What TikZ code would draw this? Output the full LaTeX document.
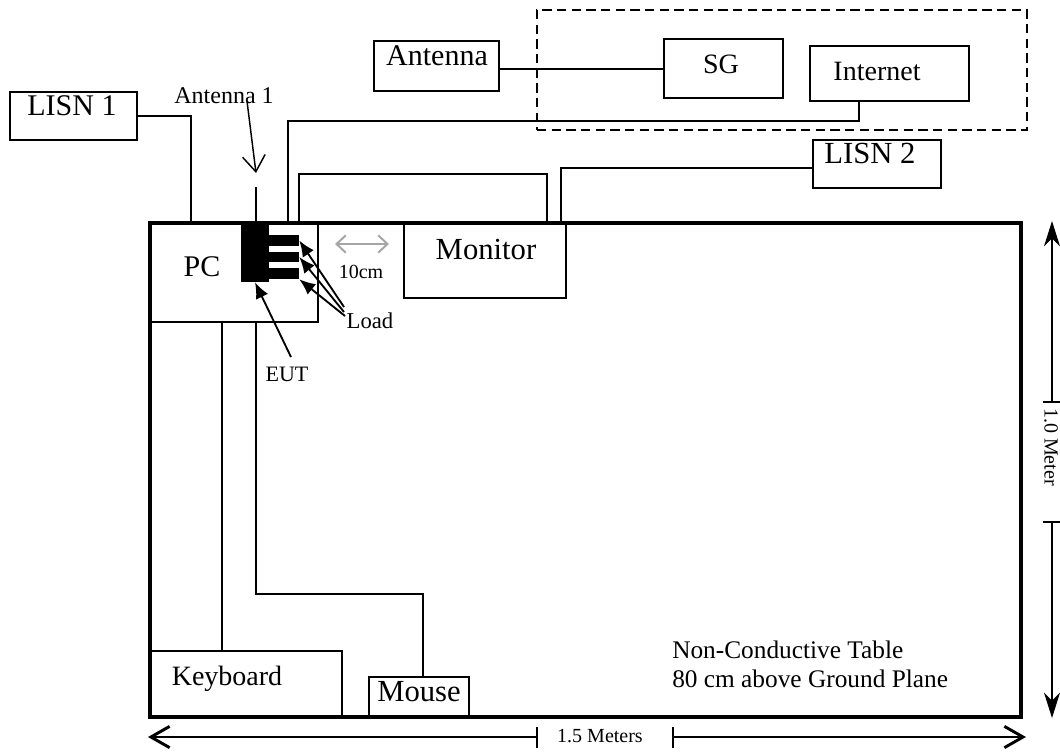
\documentclass[tikz,border=0pt]{standalone}
\usepackage{fontspec}
\setmainfont{Liberation Serif}
\usetikzlibrary{arrows.meta,fit}
\newcommand{\fsz}[1]{\fontsize{#1pt}{#1pt}\selectfont}
\begin{document}
\begin{tikzpicture}[x=0.75pt,y=-0.75pt,
  box/.style={draw, line width=1.5pt, inner sep=0pt},
  blk/.style={fill=black, draw=none, inner sep=0pt},
  wire/.style={line width=1.1pt},
  lbl/.style={inner sep=0pt, anchor=base},
  lblw/.style={inner sep=0pt, anchor=base west},
  ptr/.style={line width=1.4pt, -{Latex[length=12pt,width=10pt]}},
  dimline/.style={line width=1.1pt},
  hbarb/.style={-{Straight Barb[length=14pt,width=16pt,line width=2.2pt]}},
  vstealth/.style={-{Stealth[length=19pt,width=12pt,inset=6pt]}},
]
\useasboundingbox (0,0) rectangle (1060,751);

% boxes
\node[box, line width=2.4pt, fit={(150,223) (1021,717)}] (table) {};
\node[box, fit={(150,223) (318,322)}] (pc) {};
\node[blk, fit={(241,224) (269,282)}] (eut) {};
\node[blk, fit={(269,235) (299,246)}] (bar1) {};
\node[blk, fit={(269,252) (299,262)}] (bar2) {};
\node[blk, fit={(269,268) (299,279)}] (bar3) {};
\node[box, fit={(404,224) (566,298)}] (monitor) {};
\node[box, fit={(151,651) (342,717)}] (keyboard) {};
\node[box, fit={(369,677) (469,717)}] (mouse) {};
\node[box, fit={(10,92) (137,140)}] (lisn1) {};
\node[box, fit={(374,41) (499,91)}] (antenna) {};
\node[box, fit={(664,39) (783,98)}] (sg) {};
\node[box, fit={(810,46) (969,101)}] (internet) {};
\node[box, fit={(813,140) (941,188)}] (lisn2) {};
\node[draw, line width=1.5pt, dash pattern=on 7pt off 4pt, inner sep=0pt, fit={(537,10) (1027,130)}] (group) {};

% labels
\node[lbl, font=\fsz{22.5}] (lisn1lbl) at (72,115) {LISN 1};
\node[lbl, font=\fsz{18}] (ant1lbl) at (224,103) {Antenna 1};
\node[lbl, font=\fsz{22.5}] (antlbl) at (437,65) {Antenna};
\node[lbl, font=\fsz{21}] (sglbl) at (721,73) {SG};
\node[lbl, font=\fsz{21}] (inetlbl) at (877,80) {Internet};
\node[lbl, font=\fsz{23}] (lisn2lbl) at (870,163) {LISN 2};
\node[lbl, font=\fsz{22.5}] (pclbl) at (202,276) {PC};
\node[lbl, font=\fsz{23}] (monlbl) at (486,259) {Monitor};
\node[lbl, font=\fsz{15}] (cmlbl) at (361,278) {10cm};
\node[lbl, font=\fsz{17}] (loadlbl) at (370,328) {Load};
\node[lbl, font=\fsz{16.5}] (eutlbl) at (287,381) {EUT};
\node[lbl, font=\fsz{21}] (kblbl) at (227,685) {Keyboard};
\node[lbl, font=\fsz{23}] (mouselbl) at (419,701) {Mouse};
\node[lblw, font=\fsz{19}] (tbl1) at (672,658) {Non-Conductive Table};
\node[lblw, font=\fsz{19}] (tbl2) at (672,687) {80 cm above Ground Plane};
\node[lbl, font=\fsz{15}] (wlbl) at (600,742) {1.5 Meters};
\node[font=\fsz{15}, rotate=-90, inner sep=0pt] (hlbl) at (1051,447) {1.0 Meter};

% cables
\draw[wire] (lisn1.east) -| (table.north -| 191,0);
\draw[wire] (internet.south -| 859,0) |- (288,121) -- (table.north -| 288,0);
\draw[wire] (table.north -| 299,0) |- (547,174) -- (monitor.north -| 547,0);
\draw[wire] (lisn2.west |- 0,168) -| (table.north -| 561,0);
\draw[wire] (antenna.east |- 0,69) -- (sg.west |- 0,69);
\draw[wire] (pc.south -| 222,0) -- (keyboard.north -| 222,0);
\draw[wire] (pc.south -| 256,0) |- (423,594) -- (mouse.north -| 423,0);

% antenna 1
\coordinate (stubtop) at (256,187);
\draw[wire] (eut.north -| 256,0) -- (stubtop);
\coordinate (a1from) at (247,101);
\coordinate (a1to) at (256,173);
\draw[wire, -{Straight Barb[length=12pt,width=17pt]}] (a1from) -- (a1to);

% pointers
\coordinate (ld1) at (344,307);
\coordinate (ld2) at (344,312);
\coordinate (ld3) at (345,316);
\draw[ptr] (ld1) -- (bar1.east);
\draw[ptr] (ld2) -- (bar2.east);
\draw[ptr] (ld3) -- (bar3.south east);
\coordinate (eutfrom) at (291,357);
\draw[ptr] (eutfrom) -- (eut.south);

% 10cm spacing
\coordinate (g1) at (335,244);
\coordinate (g2) at (389,244);
\draw[gray!70, line width=1.5pt, {Straight Barb[length=7pt,width=13pt]}-{Straight Barb[length=7pt,width=13pt]}] (g1) -- (g2);

% width dimension
\coordinate (bl) at (148,737);
\coordinate (bm1) at (537,737);
\coordinate (bm2) at (673,737);
\coordinate (br) at (1026,737);
\draw[dimline, hbarb] (bm1) -- (bl);
\draw[dimline, hbarb] (bm2) -- (br);
\draw[dimline] (bm1) ++(0,-10) -- ++(0,21);
\draw[dimline] (bm2) ++(0,-10) -- ++(0,21);

% height dimension
\coordinate (rt) at (1052,221);
\coordinate (rm1) at (1052,402);
\coordinate (rm2) at (1052,522);
\coordinate (rb) at (1052,718);
\draw[dimline, vstealth] (rm1) -- (rt);
\draw[dimline, vstealth] (rm2) -- (rb);
\draw[dimline] (rm1) ++(-9,0) -- ++(17,0);
\draw[dimline] (rm2) ++(-9,0) -- ++(17,0);
\end{tikzpicture}
\end{document}
